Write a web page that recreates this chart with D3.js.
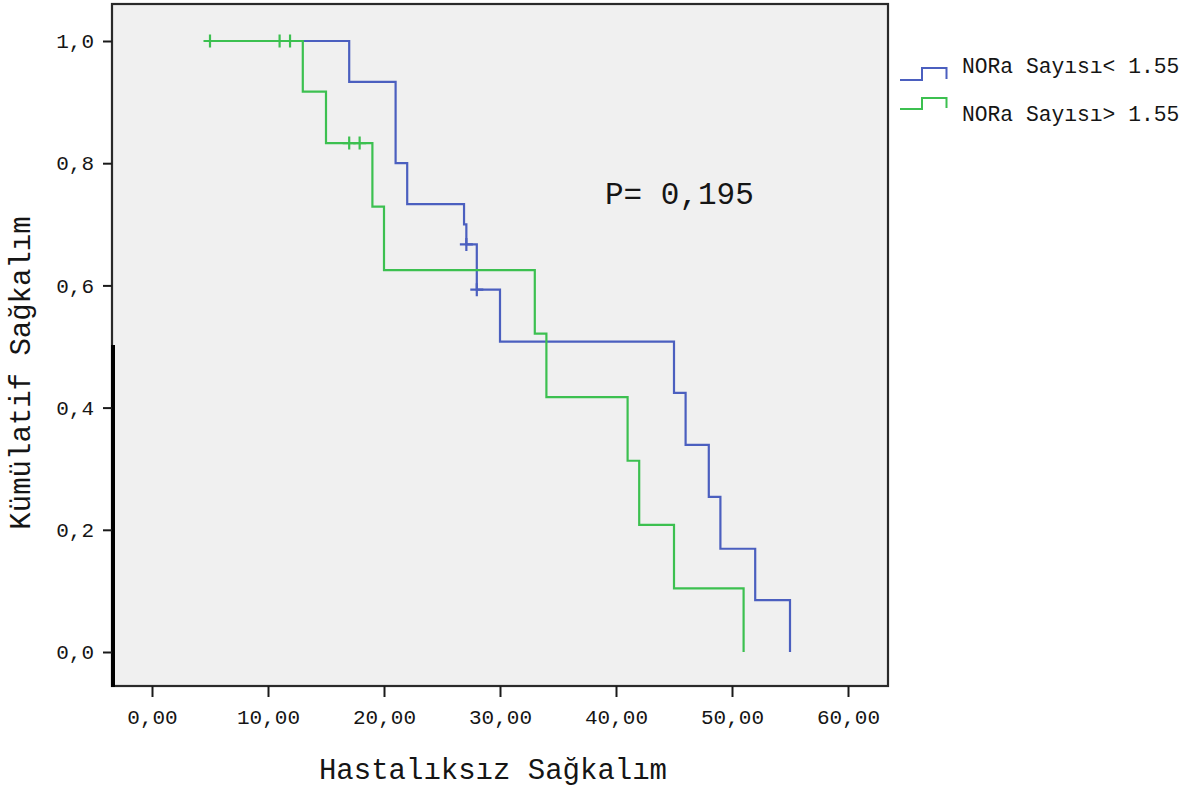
<!DOCTYPE html>
<html>
<head>
<meta charset="utf-8">
<script src="https://cdn.jsdelivr.net/npm/d3@7"></script>
<style>
  html, body { margin: 0; padding: 0; background: #ffffff; }
  svg { display: block; }
  text { font-family: "Liberation Mono", "DejaVu Sans Mono", monospace; fill: #151515; }
</style>
</head>
<body>
<svg id="chart" width="1199" height="791"></svg>
<script>
// Kaplan–Meier step values per group (time, cumulative survival after the step)
const blueTimes = [13, 17, 21, 22, 26.9, 27.1, 28, 30, 45, 46, 48, 49, 52, 55];
const blueSurv  = [1.0, 0.933, 0.800, 0.733, 0.700, 0.667, 0.593, 0.508, 0.424, 0.339, 0.254, 0.169, 0.085, 0.0];
const blueCensorTimes = [27.1, 28.0];
const blueCensorSurv  = [0.667, 0.593];

const greenTimes = [5, 13, 15, 19, 20, 33, 34, 41, 42, 45, 51];
const greenSurv  = [1.0, 0.917, 0.833, 0.729, 0.625, 0.521, 0.417, 0.313, 0.208, 0.104, 0.0];
const greenCensorTimes = [5, 11, 11.9, 17, 17.9];
const greenCensorSurv  = [1.0, 1.0, 1.0, 0.833, 0.833];

const groupNames = ["NORa Sayısı< 1.55", "NORa Sayısı> 1.55"];
const groupColors = ["#4b5fbf", "#3cc050"];

const xTicks = [0, 10, 20, 30, 40, 50, 60];
const yTicks = [0, 0.2, 0.4, 0.6, 0.8, 1.0];

const xTitle = "Hastalıksız Sağkalım";
const yTitle = "Kümülatif Sağkalım";
const pLabel = "P= 0,195";

const svg = d3.select("#chart");

// plot frame
const frame = { left: 112, right: 888, top: 4, bottom: 686 };

const x = d3.scaleLinear().domain([0, 60]).range([152, 848]);
const y = d3.scaleLinear().domain([0, 1]).range([652, 41]);

svg.append("rect")
  .attr("x", frame.left).attr("y", frame.top)
  .attr("width", frame.right - frame.left)
  .attr("height", frame.bottom - frame.top)
  .attr("fill", "#f0f0f0")
  .attr("stroke", "#2a2a2a")
  .attr("stroke-width", 2.2);

// heavier lower part of the vertical axis line
svg.append("line")
  .attr("x1", 113).attr("x2", 113)
  .attr("y1", 345).attr("y2", frame.bottom + 1)
  .attr("stroke", "#000").attr("stroke-width", 4);

// axes
const yAxis = d3.axisLeft(y)
  .tickValues(yTicks)
  .tickSize(9)
  .tickPadding(9)
  .tickFormat(d => d.toFixed(1).replace(".", ","));

const xAxis = d3.axisBottom(x)
  .tickValues(xTicks)
  .tickSize(11)
  .tickPadding(12)
  .tickFormat(d => d.toFixed(2).replace(".", ","));

const gy = svg.append("g").attr("transform", `translate(${frame.left},0)`).call(yAxis);
const gx = svg.append("g").attr("transform", `translate(0,${frame.bottom})`).call(xAxis);

[gx, gy].forEach(g => {
  g.select(".domain").remove();
  g.selectAll(".tick line").attr("stroke", "#1a1a1a").attr("stroke-width", 2);
  g.selectAll(".tick text")
    .attr("fill", "#151515")
    .style("font-family", "'Liberation Mono', monospace")
    .style("font-size", "21px");
});

// axis titles
svg.append("text")
  .attr("x", 493).attr("y", 771)
  .attr("text-anchor", "middle")
  .attr("dominant-baseline", "central")
  .style("font-size", "29px")
  .text(xTitle);

svg.append("text")
  .attr("transform", "translate(22,373) rotate(-90)")
  .attr("text-anchor", "middle")
  .attr("dominant-baseline", "central")
  .style("font-size", "29px")
  .text(yTitle);

// survival curves
const step = d3.line()
  .x(d => x(d[0]))
  .y(d => y(d[1]))
  .curve(d3.curveStepAfter);

const groups = [
  { times: blueTimes, surv: blueSurv, ct: blueCensorTimes, cs: blueCensorSurv, color: groupColors[0] },
  { times: greenTimes, surv: greenSurv, ct: greenCensorTimes, cs: greenCensorSurv, color: groupColors[1] }
];

groups.forEach(g => {
  const pts = g.times.map((t, i) => [t, g.surv[i]]);
  svg.append("path")
    .attr("d", step(pts))
    .attr("fill", "none")
    .attr("stroke", g.color)
    .attr("stroke-width", 2.2)
    .attr("stroke-linejoin", "miter")
    .attr("stroke-linecap", "butt");

  // censored cases as "+" marks
  const arm = 6.5;
  g.ct.forEach((t, i) => {
    const cx = x(t), cy = y(g.cs[i]);
    svg.append("path")
      .attr("d", `M${cx - arm},${cy}H${cx + arm}M${cx},${cy - arm}V${cy + arm}`)
      .attr("fill", "none")
      .attr("stroke", g.color)
      .attr("stroke-width", 2.2);
  });
});

// annotation
svg.append("text")
  .attr("x", 605).attr("y", 204)
  .style("font-size", "31px")
  .text(pLabel);

// legend
const legendRows = [
  { base: 80, top: 68, label: 67 },
  { base: 109, top: 98, label: 115 }
];
legendRows.forEach((r, i) => {
  svg.append("path")
    .attr("d", `M900,${r.base}H922V${r.top}H946.5V${r.base - 1}`)
    .attr("fill", "none")
    .attr("stroke", groupColors[i])
    .attr("stroke-width", 2);
  svg.append("text")
    .attr("x", 962).attr("y", r.label)
    .attr("dominant-baseline", "central")
    .style("font-size", "21.3px")
    .text(groupNames[i]);
});
</script>
</body>
</html>
